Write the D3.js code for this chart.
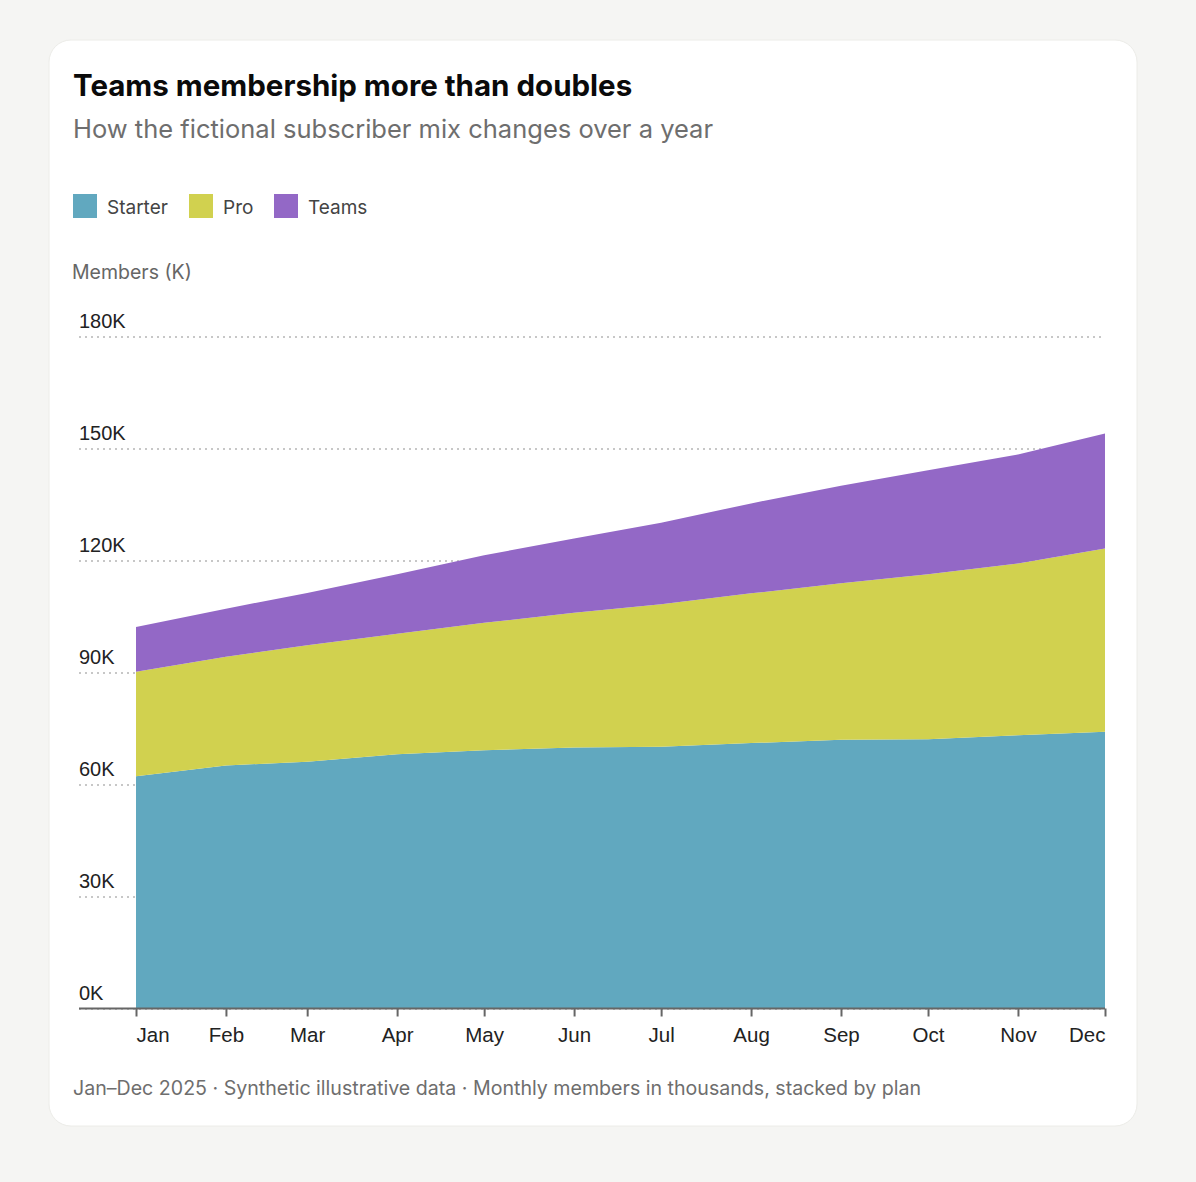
<!DOCTYPE html>
<html>
<head>
<meta charset="utf-8">
<script src="https://cdn.jsdelivr.net/npm/d3@7"></script>
<style>
  body { margin: 0; background: #f5f5f3; }
  svg { display: block; font-family: Inter, "Noto Sans", sans-serif; }
</style>
</head>
<body>
<div id="chart"></div>
<script>
        // Data (thousands of members)
        var months = ["2025-01-01","2025-02-01","2025-03-01","2025-04-01","2025-05-01","2025-06-01",
                      "2025-07-01","2025-08-01","2025-09-01","2025-10-01","2025-11-01","2025-12-01"];
        var plans = ["Starter", "Pro", "Teams"];
        var starter = [62.2, 65.1, 66.1, 68.1, 69.2, 69.9, 70.1, 71.1, 72.0, 72.1, 73.2, 74.1];
        var pro     = [28.0, 29.1, 31.2, 32.3, 34.1, 36.1, 38.2, 40.1, 41.9, 44.2, 46.0, 49.1];
        var teams   = [12.0, 12.9, 14.0, 15.9, 18.1, 19.9, 21.8, 24.1, 26.1, 27.9, 29.2, 30.8];
        var yTicks = [0, 30, 60, 90, 120, 150, 180];
        var colors = ["#61a8bf", "#d1d14f", "#9368c6"];

        var W = 1196, H = 1182;
        var parse = d3.timeParse("%Y-%m-%d");

        var rows = months.map(function(m, i) {
            return { date: parse(m), Starter: starter[i], Pro: pro[i], Teams: teams[i] };
        });

        var svg = d3.select("#chart")
                    .append("svg")
                    .attr("width", W)
                    .attr("height", H);

        // card
        svg.append("rect")
            .attr("x", 49).attr("y", 40)
            .attr("width", 1088).attr("height", 1086)
            .attr("rx", 22)
            .attr("fill", "#fff")
            .attr("stroke", "#ecece8");

        // titles
        svg.append("text")
            .attr("x", 73).attr("y", 96)
            .attr("font-size", "29.5px")
            .attr("font-weight", "bold")
            .attr("fill", "#0a0a0a")
            .text("Teams membership more than doubles");

        svg.append("text")
            .attr("x", 73).attr("y", 138)
            .attr("font-size", "25.5px")
            .attr("fill", "#6e6e6e")
            .text("How the fictional subscriber mix changes over a year");

        // legend
        var legendX = [73, 189, 274];
        var legend = svg.selectAll("g.legend")
            .data(plans)
            .enter()
            .append("g")
            .attr("class", "legend")
            .attr("transform", function(d, i) { return "translate(" + legendX[i] + ",194)"; });

        legend.append("rect")
            .attr("width", 24).attr("height", 24)
            .attr("fill", function(d, i) { return colors[i]; });

        legend.append("text")
            .attr("x", 34).attr("y", 20)
            .attr("font-size", "19px")
            .attr("fill", "#444")
            .text(function(d) { return d; });

        // y axis title
        svg.append("text")
            .attr("x", 72).attr("y", 279)
            .attr("font-size", "19.5px")
            .attr("fill", "#666")
            .text("Members (K)");

        // scales
        var xScale = d3.scaleTime()
                        .domain(d3.extent(rows, function(d) { return d.date; }))
                        .range([136, 1105]);

        var yScale = d3.scaleLinear()
                        .domain([0, 180])
                        .range([1008.5, 336.5]);

        // grid + y labels
        var y_axis = d3.axisLeft(yScale)
            .tickValues(yTicks)
            .tickSize(-(1101 - 79))
            .tickFormat(function(d) { return d + "K"; });

        var gy = svg.append("g")
            .attr("transform", "translate(79,0)")
            .call(y_axis);
        gy.select(".domain").remove();
        gy.selectAll(".tick line")
            .attr("stroke", "#b5b5b5")
            .attr("stroke-width", 1.5)
            .attr("stroke-dasharray", "2,4");
        gy.selectAll(".tick text")
            .attr("x", 0)
            .attr("dy", "-0.45em")
            .attr("text-anchor", "start")
            .attr("font-family", null)
            .attr("font-size", "20px")
            .attr("fill", "#222");

        // stacked areas
        var stack = d3.stack().keys(plans);
        var series = stack(rows);

        var area = d3.area()
            .x(function(d) { return xScale(d.data.date); })
            .y0(function(d) { return yScale(d[0]); })
            .y1(function(d) { return yScale(d[1]); });

        svg.selectAll("path.layer")
           .data(series)
           .enter()
           .append("path")
           .attr("class", "layer")
           .attr("d", area)
           .attr("fill", function(d, i) { return colors[i]; });

        // x axis
        var x_axis = d3.axisBottom(xScale)
            .tickValues(rows.map(function(d) { return d.date; }))
            .tickSize(8)
            .tickPadding(11)
            .tickFormat(d3.timeFormat("%b"));

        var gx = svg.append("g")
            .attr("transform", "translate(0,1008.5)")
            .call(x_axis);
        gx.select(".domain")
            .attr("d", "M79,0H1105")
            .attr("stroke", "#666")
            .attr("stroke-width", 2);
        gx.selectAll(".tick line")
            .attr("stroke", "#666")
            .attr("stroke-width", 2);
        gx.selectAll(".tick text")
            .attr("font-family", null)
            .attr("font-size", "20.5px")
            .attr("fill", "#222")
            .attr("text-anchor", function(d, i) {
                return i === 0 ? "start" : (i === rows.length - 1 ? "end" : "middle");
            });

        // footer
        svg.append("text")
            .attr("x", 73).attr("y", 1095)
            .attr("font-size", "19.6px")
            .attr("fill", "#6e6e6e")
            .text("Jan–Dec 2025 · Synthetic illustrative data · Monthly members in thousands, stacked by plan");
</script>
</body>
</html>
